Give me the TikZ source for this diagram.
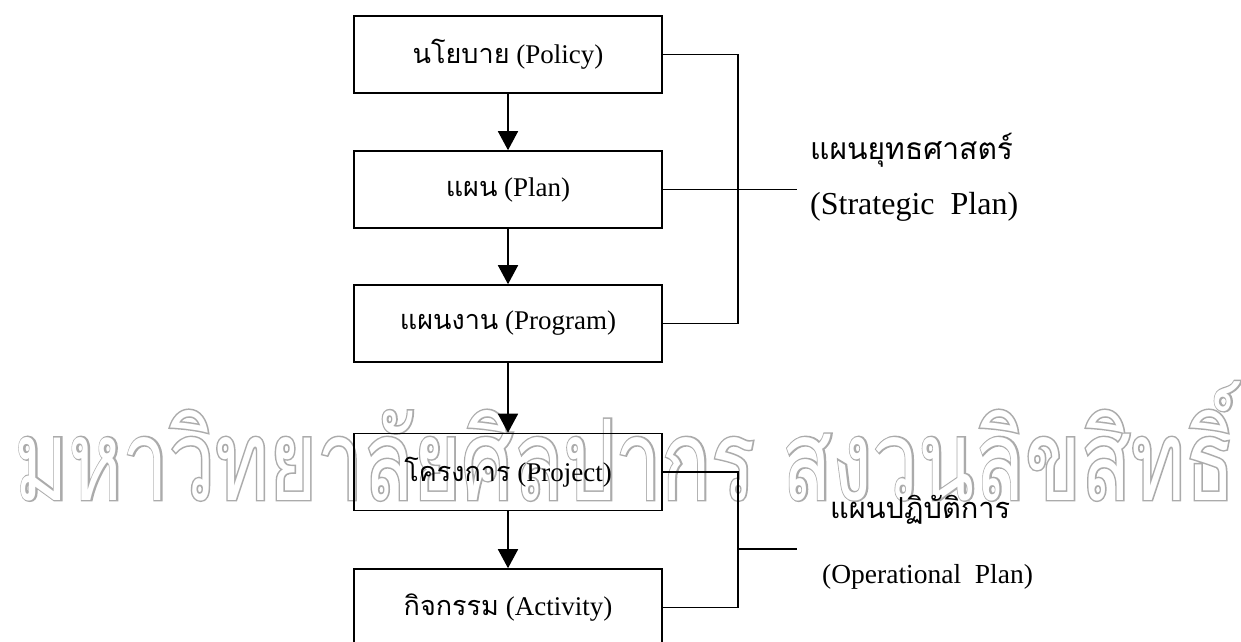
\documentclass[tikz,border=0pt]{standalone}
\usepackage{fontspec}
\usepackage{graphicx}
\usetikzlibrary{arrows.meta}
\setmainfont{Liberation Serif}
\newfontfamily\thaifont[Script=Thai]{Loma}
% background mark: a stroked (wider) copy under a plain white copy leaves an outline
\newfontfamily\markwide[Script=Thai,FakeStretch=0.73,FakeBold=2.6]{Loma}
\newfontfamily\markplain[Script=Thai,FakeStretch=0.73]{Loma}
\newcommand{\thaitxt}[1]{{\thaifont #1}}
\newcommand{\marktext}{มหาวิทยาลัยศิลปากร สงวนลิขสิทธิ์}
\tikzset{
  stepbox/.style={draw, line width=1.6pt, minimum width=308pt, minimum height=77pt,
    inner sep=0pt, font=\fontsize{27}{30}\selectfont},
  flow/.style={line width=1.6pt, -{Triangle[width=20pt,length=19pt]}},
  bracket/.style={line width=1.6pt},
  sidelabel/.style={anchor=west, inner sep=0pt},
  marklayer/.style={anchor=base, inner sep=0pt},
}
\begin{document}
\begin{tikzpicture}[x=1pt,y=-1pt]
\useasboundingbox (0,0) rectangle (1241,641);

% background mark
\node[marklayer, text=black!33] (markedge) at (625,500)
  {\resizebox{1220pt}{!}{\fontsize{134}{140}\markwide\marktext}};
\node[marklayer, text=white] (markfill) at (625,500)
  {\resizebox{1220pt}{!}{\fontsize{134}{140}\markplain\marktext}};

% process steps
\node[stepbox] (policy)   at (508,54.5)  {\thaitxt{นโยบาย} (Policy)};
\node[stepbox] (plan)     at (508,189.5) {\thaitxt{แผน} (Plan)};
\node[stepbox] (program)  at (508,323.5) {\thaitxt{แผนงาน} (Program)};
\node[stepbox] (project)  at (508,472)   {\thaitxt{โครงการ} (Project)};
\node[stepbox] (activity) at (508,607.5) {\thaitxt{กิจกรรม} (Activity)};

\draw[flow] (policy) -- (plan);
\draw[flow] (plan) -- (program);
\draw[flow] (program) -- (project);
\draw[flow] (project) -- (activity);

% strategic bracket
\coordinate (sjoin) at (738,189.5);
\coordinate (send)  at (797,189.5);
\draw[bracket] (policy.east) -| (sjoin) |- (program.east);
\draw[bracket] (plan.east) -- (send);
\node[sidelabel, font=\fontsize{30}{32}\selectfont] (stratth) at (810,150) {\thaitxt{แผนยุทธศาสตร์}};
\node[sidelabel, font=\fontsize{32}{34}\selectfont] (straten) at (810,207) {(Strategic\ \ Plan)};

% operational bracket
\coordinate (ojoin) at (738,549);
\coordinate (oend)  at (797,549);
\draw[bracket] (project.east) -| (ojoin) |- (activity.east);
\draw[bracket] (ojoin) -- (oend);
\node[sidelabel, font=\fontsize{29}{31}\selectfont] (opth) at (830,510) {\thaitxt{แผนปฏิบัติการ}};
\node[sidelabel, font=\fontsize{27.5}{30}\selectfont] (open) at (822,577) {(Operational\ \ Plan)};
\end{tikzpicture}
\end{document}
